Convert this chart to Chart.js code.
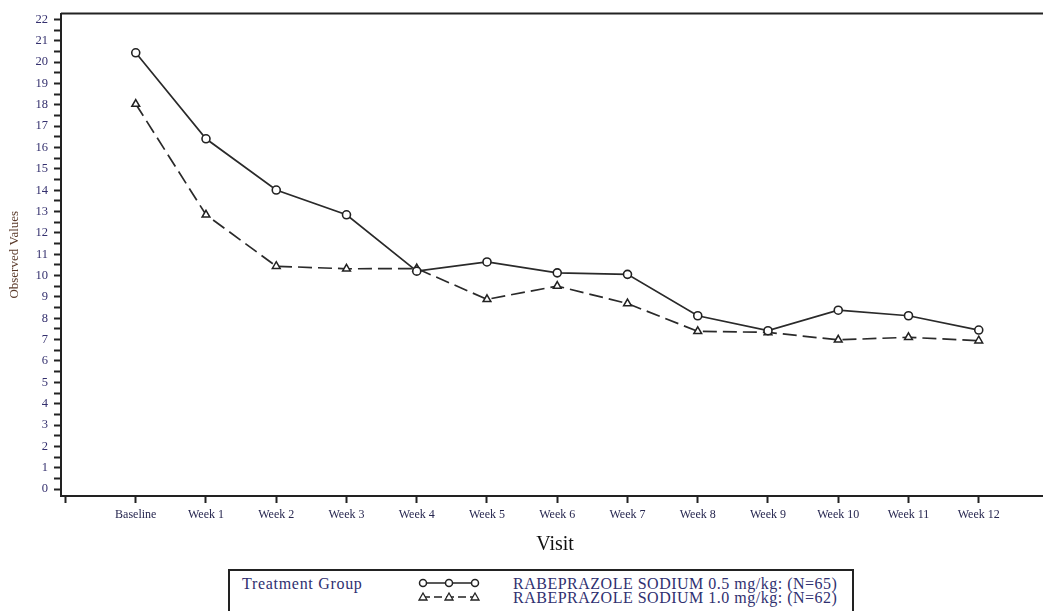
<!DOCTYPE html>
<html>
<head>
<meta charset="utf-8">
<script src="https://cdn.jsdelivr.net/npm/chart.js@4"></script>
<style>
  html, body { margin: 0; padding: 0; background: #fff; }
  #page { position: relative; width: 1043px; height: 611px; overflow: hidden; }
  #plot { position: absolute; left: 0; top: 0; width: 1060px; height: 566px; }
  #legend {
    position: absolute; left: 228px; top: 569px; width: 622px; height: 60px;
    border: 2px solid #222; font-family: 'Liberation Serif', serif; color: #2f3070;
  }
  #legend .grp { position: absolute; left: 12px; top: 4px; font-size: 16px; letter-spacing: 0.7px; }
  #legend .lab { position: absolute; left: 283px; font-size: 16px; letter-spacing: 0.5px; line-height: 14px; }
  #legend svg { position: absolute; left: 180px; top: 0; }
</style>
</head>
<body>
<div id="page">
  <div id="plot"><canvas id="chart"></canvas></div>
  <div id="legend">
    <span class="grp">Treatment Group</span>
    <svg width="80" height="40">
      <line x1="12" y1="12" x2="66" y2="12" stroke="#222" stroke-width="1.5"/>
      <circle cx="13" cy="12" r="3.5" fill="#fff" stroke="#222" stroke-width="1.5"/>
      <circle cx="39" cy="12" r="3.5" fill="#fff" stroke="#222" stroke-width="1.5"/>
      <circle cx="65" cy="12" r="3.5" fill="#fff" stroke="#222" stroke-width="1.5"/>
      <line x1="12" y1="26" x2="66" y2="26" stroke="#222" stroke-width="1.5" stroke-dasharray="8,4"/>
      <polygon points="13,22 17,29 9,29" fill="#fff" stroke="#222" stroke-width="1.3"/>
      <polygon points="39,22 43,29 35,29" fill="#fff" stroke="#222" stroke-width="1.3"/>
      <polygon points="65,22 69,29 61,29" fill="#fff" stroke="#222" stroke-width="1.3"/>
    </svg>
    <span class="lab" style="top:6px">RABEPRAZOLE SODIUM 0.5 mg/kg: (N=65)</span>
    <span class="lab" style="top:20px">RABEPRAZOLE SODIUM 1.0 mg/kg: (N=62)</span>
  </div>
</div>
<script>
const visits = ['Baseline', 'Week 1', 'Week 2', 'Week 3', 'Week 4', 'Week 5', 'Week 6',
                'Week 7', 'Week 8', 'Week 9', 'Week 10', 'Week 11', 'Week 12'];
const dose05 = [20.44, 16.41, 14.01, 12.85, 10.21, 10.64, 10.13, 10.06, 8.12, 7.42, 8.38, 8.12, 7.45];
const dose10 = [18.04, 12.85, 10.44, 10.32, 10.33, 8.89, 9.51, 8.69, 7.39, 7.34, 6.99, 7.11, 6.95];
const yTickValues = [];
for (let v = 0; v <= 22; v += 0.5) yTickValues.push(v);

const toPoints = arr => arr.map((v, i) => ({ x: i, y: v }));
const serif = 'Liberation Serif';

const topBorder = {
  id: 'topBorder',
  afterDraw(chart) {
    const { ctx, chartArea } = chart;
    ctx.save();
    ctx.strokeStyle = '#222';
    ctx.lineWidth = 2;
    ctx.beginPath();
    ctx.moveTo(chartArea.left, chartArea.top);
    ctx.lineTo(chartArea.right, chartArea.top);
    ctx.lineTo(chartArea.right, chartArea.bottom);
    ctx.stroke();
    ctx.restore();
  }
};

new Chart(document.getElementById('chart'), {
  type: 'line',
  data: {
    datasets: [{
      label: 'RABEPRAZOLE SODIUM 0.5 mg/kg: (N=65)',
      data: toPoints(dose05),
      borderColor: '#2a2a2a',
      borderWidth: 1.7,
      pointStyle: 'circle',
      pointRadius: 4,
      pointBorderWidth: 1.6,
      pointBackgroundColor: '#fff',
      pointBorderColor: '#222',
      tension: 0
    }, {
      label: 'RABEPRAZOLE SODIUM 1.0 mg/kg: (N=62)',
      data: toPoints(dose10),
      borderColor: '#2a2a2a',
      borderWidth: 1.7,
      borderDash: [14, 6],
      pointStyle: 'triangle',
      pointRadius: 4.5,
      pointBorderWidth: 1.5,
      pointBackgroundColor: '#fff',
      pointBorderColor: '#222',
      tension: 0
    }]
  },
  options: {
    responsive: true,
    maintainAspectRatio: false,
    animation: false,
    layout: { padding: { top: 10, right: 11, left: 0, bottom: 0 } },
    plugins: { legend: { display: false }, tooltip: { enabled: false } },
    scales: {
      x: {
        type: 'linear',
        min: -1.064,
        max: 13,
        afterBuildTicks: s => { s.ticks = []; for (let i = -1; i <= 13; i++) s.ticks.push({ value: i }); },
        afterFit: s => { s.height = 70; },
        border: { color: '#222', width: 2 },
        grid: { drawOnChartArea: false, tickLength: 7, tickWidth: 2, tickColor: '#222' },
        ticks: {
          autoSkip: false,
          maxRotation: 0,
          padding: 5,
          color: '#26264f',
          font: { family: serif, size: 12 },
          callback: v => (v >= 0 && v < visits.length ? visits[v] : '')
        },
        title: {
          display: true,
          text: 'Visit',
          color: '#111',
          font: { family: serif, size: 20 },
          padding: { top: 0, bottom: 9 }
        }
      },
      y: {
        min: -0.325,
        max: 22.28,
        afterBuildTicks: s => { s.ticks = yTickValues.map(v => ({ value: v })); },
        afterFit: s => { s.width = 61; },
        border: { color: '#222', width: 2 },
        grid: { drawOnChartArea: false, tickLength: 7, tickWidth: 2, tickColor: '#222' },
        ticks: {
          autoSkip: false,
          padding: 6,
          color: '#34306e',
          font: { family: serif, size: 12.5 },
          callback: v => (Number.isInteger(v) ? String(v) : '')
        },
        title: {
          display: true,
          text: 'Observed Values',
          color: '#5a3a2a',
          font: { family: serif, size: 13 },
          padding: { top: 7, bottom: 0 }
        }
      }
    }
  },
  plugins: [topBorder]
});
</script>
</body>
</html>
